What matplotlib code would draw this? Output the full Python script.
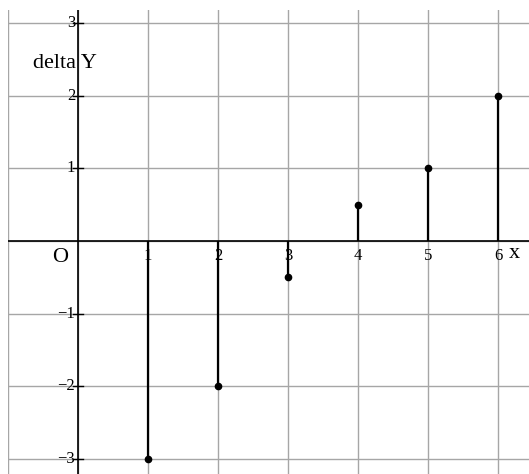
import numpy as np
import matplotlib
matplotlib.use("Agg")
import matplotlib.pyplot as plt

# data
x_vals = [1, 2, 3, 4, 5, 6]
delta_y = [-3, -2, -0.5, 0.5, 1, 2]
x_ticks = [1, 2, 3, 4, 5, 6]
y_ticks = [-3, -2, -1, 1, 2, 3]

plt.rcParams['font.family'] = ['Liberation Serif', 'DejaVu Serif']

fig = plt.figure(figsize=(5.29, 4.74), dpi=100)
ax = fig.add_axes([8 / 529, 0, 521 / 529, 464 / 474])
ax.set_xlim(-1, 6.443)
ax.set_ylim(-3.205, 3.18)
for s in ax.spines.values():
    s.set_visible(False)
ax.set_xticks([])
ax.set_yticks([])

# grid
for gx in range(-1, 7):
    ax.axvline(gx, color='#a6a6a6', lw=1, zorder=1)
for gy in range(-3, 4):
    ax.axhline(gy, color='#a6a6a6', lw=1, zorder=1)

# axes through origin
ax.axhline(0, color='black', lw=1.2, zorder=2)
ax.axvline(0, color='black', lw=1.2, zorder=2)

# tick marks and labels
for t in y_ticks:
    ax.plot([-0.07, 0.07], [t, t], color='black', lw=1, zorder=2)
    lab = str(t).replace('-', '\u2212')
    ax.text(-0.04, t, lab, ha='right', va='center', fontsize=12, zorder=3)
for t in x_ticks:
    ax.text(t, -0.1, str(t), ha='center', va='top', fontsize=12, zorder=3)

ax.text(-0.25, -0.1, 'O', ha='center', va='top', fontsize=16)
ax.text(6.15, -0.04, 'x', ha='left', va='top', fontsize=16)
ax.text(-0.18, 2.45, 'delta Y', ha='center', va='center', fontsize=16)

# stems and points
ax.vlines(x_vals, 0, delta_y, color='black', lw=1.6, zorder=4)
ax.plot(x_vals, delta_y, 'o', color='black', ms=4.5, zorder=5)

fig.savefig('out.png', dpi=100)
